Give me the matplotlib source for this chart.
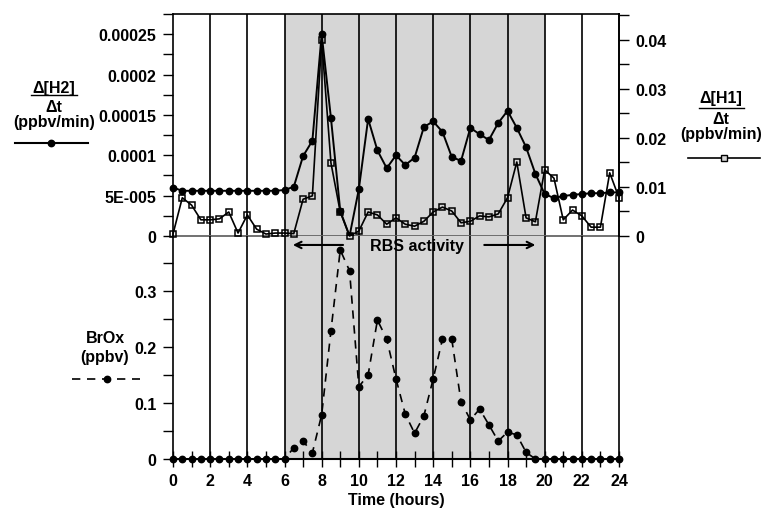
import numpy as np
import matplotlib
matplotlib.use("Agg")
import matplotlib.pyplot as plt
from matplotlib.lines import Line2D

plt.rcParams['font.family'] = ['Liberation Sans', 'DejaVu Sans']
plt.rcParams['font.weight'] = 'bold'
plt.rcParams['axes.labelweight'] = 'bold'
plt.rcParams['font.size'] = 11.5

# half-hourly time axis
hours = np.arange(0, 24.5, 0.5)

# d[H2]/dt (ppbv/min), left axis of upper panel
dh2 = [6.0e-5, 5.6e-5, 5.6e-5, 5.6e-5, 5.6e-5, 5.6e-5, 5.6e-5, 5.6e-5, 5.6e-5, 5.6e-5,
       5.6e-5, 5.6e-5, 5.7e-5, 6.1e-5, 9.9e-5, 1.18e-4, 2.5e-4, 1.46e-4, 3.1e-5, 0.0,
       5.8e-5, 1.45e-4, 1.06e-4, 8.4e-5, 1.0e-4, 8.8e-5, 9.7e-5, 1.35e-4, 1.42e-4, 1.29e-4,
       9.8e-5, 9.3e-5, 1.34e-4, 1.26e-4, 1.19e-4, 1.40e-4, 1.55e-4, 1.34e-4, 1.10e-4, 7.7e-5,
       5.2e-5, 4.7e-5, 4.95e-5, 5.1e-5, 5.2e-5, 5.3e-5, 5.3e-5, 5.4e-5, 5.4e-5]

# d[H1]/dt (ppbv/min), right axis of upper panel
dh1 = [0.0004, 0.0078, 0.0063, 0.0033, 0.0033, 0.0035, 0.0049, 0.0006, 0.0043, 0.0014,
       0.0004, 0.0006, 0.0006, 0.0005, 0.0075, 0.0082, 0.0400, 0.0149, 0.0049, 0.0,
       0.0010, 0.0049, 0.0043, 0.0024, 0.0037, 0.0024, 0.0020, 0.0030, 0.0049, 0.0059,
       0.0051, 0.0027, 0.0030, 0.0041, 0.0039, 0.0045, 0.0078, 0.0151, 0.0037, 0.0029,
       0.0135, 0.0118, 0.0033, 0.0053, 0.0041, 0.0018, 0.0018, 0.0129, 0.0078]

# BrOx (ppbv), lower panel
brox = [0, 0, 0, 0, 0, 0, 0, 0, 0, 0, 0, 0, 0, 0.020, 0.032, 0.011, 0.079, 0.229, 0.373, 0.336,
        0.129, 0.150, 0.248, 0.214, 0.143, 0.080, 0.046, 0.077, 0.143, 0.214,
        0.214, 0.102, 0.070, 0.089, 0.061, 0.032, 0.048, 0.043, 0.012, 0,
        0, 0, 0, 0, 0, 0, 0, 0, 0]

W, H = 773, 510
fig = plt.figure(figsize=(W / 100, H / 100), dpi=100)


def fx(x):
    return x / W


def fy(y):
    return 1 - y / H


ax_top = fig.add_axes([fx(173), fy(237), (619 - 173) / W, (237 - 15) / H])
ax_bot = fig.add_axes([fx(173), fy(460), (619 - 173) / W, (460 - 237) / H])
ax_h1 = ax_top.twinx()

for ax in (ax_top, ax_bot):
    ax.set_xlim(0, 24)
    ax.axvspan(6, 20, facecolor='#d6d6d6', edgecolor='none', zorder=0)
    for h in range(2, 24, 2):
        ax.axvline(h, color='black', lw=1.2, zorder=1)
    ax.patch.set_alpha(0)

# upper panel
ax_top.set_ylim(0, 0.000275)
ax_h1.set_ylim(0, 0.0453)
ax_top.plot(hours, dh2, color='black', lw=1.4, marker='o', ms=4.6, clip_on=False, zorder=3)
ax_h1.plot(hours, dh1, color='black', lw=1.2, marker='s', ms=5, mfc='none', mec='black',
           mew=1.1, clip_on=False, zorder=3)

ax_top.set_yticks([0, 5e-5, 1e-4, 1.5e-4, 2e-4, 2.5e-4],
                  ['0', '5E-005', '0.0001', '0.00015', '0.0002', '0.00025'])
ax_top.set_yticks(np.arange(2.5e-5, 0.00028, 5e-5), minor=True)
ax_h1.set_yticks([0, 0.01, 0.02, 0.03, 0.04], ['0', '0.01', '0.02', '0.03', '0.04'])
ax_h1.set_yticks([0.005, 0.015, 0.025, 0.035, 0.045], minor=True)
ax_top.set_xticks([])
ax_top.tick_params(axis='y', which='both', direction='out', length=7, width=1, pad=5)
ax_h1.tick_params(axis='y', which='both', direction='out', length=7, width=1, pad=5)
ax_top.spines['bottom'].set_color('#666666')
ax_top.spines['bottom'].set_linewidth(1.3)
ax_top.spines['bottom'].set_zorder(2)
for s in ('left', 'top', 'right'):
    ax_top.spines[s].set_linewidth(1.2)
for s in ('left', 'top', 'bottom'):
    ax_h1.spines[s].set_visible(False)
ax_h1.spines['right'].set_linewidth(1.2)

# lower panel
ax_bot.set_ylim(0, 0.398)
ax_bot.plot(hours, brox, color='black', lw=1.2, ls=(0, (5, 4)), marker='o', ms=4.6,
            clip_on=False, zorder=3)
ax_bot.set_yticks([0, 0.1, 0.2, 0.3], ['0', '0.1', '0.2', '0.3'])
ax_bot.set_yticks([0.05, 0.15, 0.25, 0.35], minor=True)
ax_bot.set_xticks(range(0, 25, 2))
ax_bot.set_xticks(range(1, 24, 2), minor=True)
ax_bot.tick_params(axis='y', which='both', direction='out', length=7, width=1, pad=5)
ax_bot.tick_params(axis='x', which='both', direction='inout', length=12, width=1, pad=4)
ax_bot.spines['top'].set_visible(False)
ax_bot.spines['bottom'].set_linewidth(1.5)
ax_bot.spines['left'].set_linewidth(1.2)
ax_bot.spines['right'].set_linewidth(1.2)
ax_bot.set_xlabel('Time (hours)', labelpad=3, fontweight='bold')

# RBS activity annotation
ax_bot.text(13.1, 0.381, 'RBS activity', ha='center', va='center', fontsize=11.5)
ax_bot.annotate('', xy=(6.3, 0.382), xytext=(9.3, 0.382),
                arrowprops=dict(arrowstyle='->', color='black', lw=1.5))
ax_bot.annotate('', xy=(19.65, 0.382), xytext=(16.6, 0.382),
                arrowprops=dict(arrowstyle='->', color='black', lw=1.5))

# series labels in the margins
fig.text(fx(54), fy(88), '\u0394[H2]', ha='center', va='center')
fig.add_artist(Line2D([fx(31), fx(77)], [fy(96)] * 2, color='black', lw=1))
fig.text(fx(54), fy(108), '\u0394t', ha='center', va='center')
fig.text(fx(54), fy(123), '(ppbv/min)', ha='center', va='center')
fig.add_artist(Line2D([fx(15), fx(88)], [fy(144)] * 2, color='black', lw=1.5))
fig.add_artist(Line2D([fx(51)], [fy(144)], marker='o', ms=4.6, color='black'))

fig.text(fx(721), fy(98), '\u0394[H1]', ha='center', va='center')
fig.add_artist(Line2D([fx(699), fx(744)], [fy(109)] * 2, color='black', lw=1))
fig.text(fx(721), fy(120), '\u0394t', ha='center', va='center')
fig.text(fx(721), fy(135), '(ppbv/min)', ha='center', va='center')
fig.add_artist(Line2D([fx(688), fx(760)], [fy(159)] * 2, color='black', lw=1.2))
fig.add_artist(Line2D([fx(724)], [fy(159)], marker='s', ms=5, mfc='#d6d6d6',
                      mec='black', color='black'))

fig.text(fx(105), fy(339), 'BrOx', ha='center', va='center')
fig.text(fx(105), fy(358), '(ppbv)', ha='center', va='center')
fig.add_artist(Line2D([fx(72), fx(140)], [fy(380)] * 2, color='black', lw=1.2,
                      ls=(0, (5, 4))))
fig.add_artist(Line2D([fx(107)], [fy(380)], marker='o', ms=4.6, color='black'))

fig.savefig('out.png', dpi=100)
